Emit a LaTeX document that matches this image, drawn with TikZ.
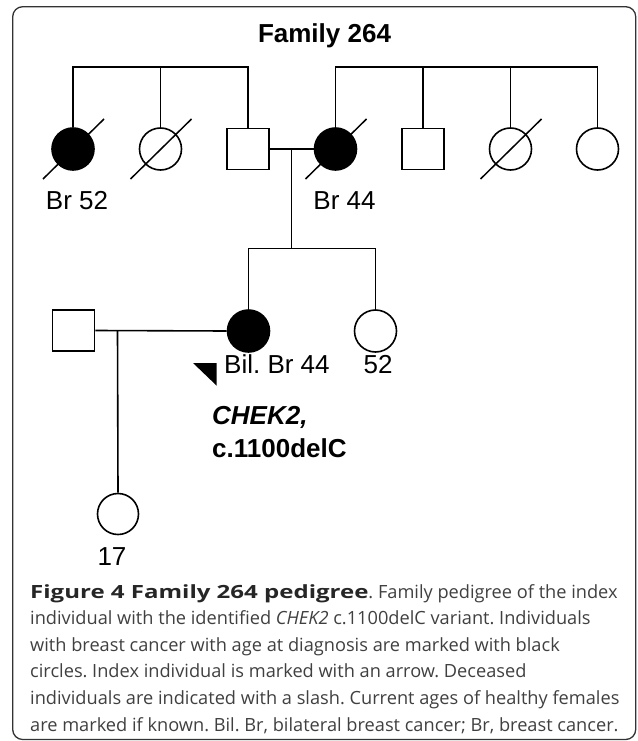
\documentclass[tikz,border=0pt]{standalone}
\usepackage{fontspec}
\usepackage{graphicx}
\setmainfont{Liberation Sans}
\newfontfamily\capfont{Open Sans}
\definecolor{captext}{HTML}{404040}
\definecolor{framecol}{HTML}{333333}
\frenchspacing
\begin{document}
\frenchspacing
\begin{tikzpicture}[x=1pt,y=-1pt,
  ped/.style={line width=1.6pt,black},
  fem/.style={circle,draw,line width=1.6pt,minimum size=42pt,inner sep=0pt},
  affected/.style={fem,fill=black},
  male/.style={rectangle,draw,line width=1.6pt,minimum width=42pt,minimum height=41pt,inner sep=0pt},
  lab/.style={anchor=base,font=\fontsize{26}{30}\selectfont,inner sep=0pt},
  boldlab/.style={anchor=base west,font=\fontsize{26}{30}\selectfont\bfseries,inner sep=0pt},
  capline/.style={anchor=base west,inner sep=0pt,text=captext,font=\capfont\fontsize{18.2}{22}\selectfont\frenchspacing},
  deceased/.style={line width=1.5pt}
]
\useasboundingbox (0,0) rectangle (637,741);
% frame
\draw[framecol,line width=1.3pt,rounded corners=10pt] (12.7,6.7) rectangle (635.7,739.5);

% title
\node[lab,font=\fontsize{26}{30}\selectfont\bfseries] (title) at (324.5,43) {Family 264};

% generation I
\node[affected] (a1) at (73,149) {};
\node[fem] (a2) at (160.5,149) {};
\node[male] (a3) at (248,149) {};
\node[affected] (a4) at (335.5,149) {};
\node[male] (a5) at (423,149) {};
\node[fem] (a6) at (510.5,149) {};
\node[fem] (a7) at (597.5,149) {};

\coordinate (top) at (0,67);
\draw[ped] (a1.north) -- (a1.north |- top) -- (a3.north |- top) -- (a3.north);
\draw[ped] (a2.north) -- (a2.north |- top);
\draw[ped] (a4.north) -- (a4.north |- top) -- (a7.north |- top) -- (a7.north);
\draw[ped] (a5.north) -- (a5.north |- top);
\draw[ped] (a6.north) -- (a6.north |- top);

% deceased slashes
\foreach \n in {a1,a2,a4,a6}{
  \draw[deceased] ([shift={(-30,30)}]\n.center) -- ([shift={(31,-30)}]\n.center);
}

\node[lab] (l1) at (77,209) {Br 52};
\node[lab] (l4) at (344.5,209) {Br 44};

% marriage and descent
\coordinate (m1) at (291.5,148.5);
\coordinate (sib2) at (0,248.5);
\draw[ped] (a3.east) -- (a4.west);
\draw[ped] (m1) -- (m1 |- sib2);

% generation II
\node[affected] (b1) at (248.5,331) {};
\node[fem] (b2) at (375.5,331) {};
\node[male] (sp) at (73.5,330.5) {};
\draw[ped] (b1.north) -- (b1.north |- sib2) -- (b2.north |- sib2) -- (b2.north);

\node[anchor=base west,font=\fontsize{26}{30}\selectfont,inner sep=0pt] (lb1) at (224,373) {Bil. Br 44};
\node[lab] (lb2) at (378,373) {52};

% proband arrowhead
\fill (193,363) -- (216.5,363) -- (216.5,385.5) -- cycle;

\node[boldlab] (gene1) at (212,424) {\itshape CHEK2,};
\node[boldlab] (gene2) at (212,457) {c.1100delC};

% marriage II and child
\draw[ped] (sp.east) -- (b1.west);
\coordinate (m2) at (117.5,330);
\node[fem,minimum size=41pt] (c1) at (118,514) {};
\draw[ped] (m2) -- (c1.north);
\node[lab] (lc1) at (112,565) {17};

% caption
\node[capline] (cap0) at (30,598) {{\color{black!85}\scalebox{1.32}[1]{\bfseries Figure 4 Family 264 pedigree}}. Family pedigree of the index};
\node[capline] (cap1) at (30,624.6) {individual with the identified \textit{CHEK2} c.1100delC variant. Individuals};
\node[capline] (cap2) at (30,651.2) {with breast cancer with age at diagnosis are marked with black};
\node[capline] (cap3) at (30,677.8) {circles. Index individual is marked with an arrow. Deceased};
\node[capline] (cap4) at (30,704.4) {individuals are indicated with a slash. Current ages of healthy females};
\node[capline] (cap5) at (30,731) {are marked if known. Bil. Br, bilateral breast cancer; Br, breast cancer.};
\end{tikzpicture}
\end{document}
